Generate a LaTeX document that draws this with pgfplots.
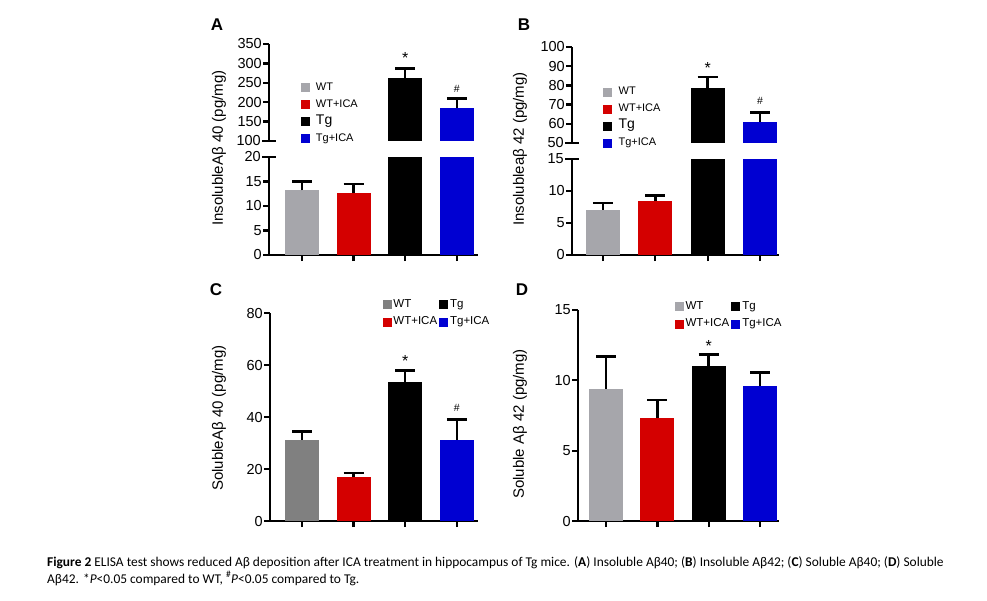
\documentclass[border=0pt]{standalone}
\usepackage{pgfplots}
\pgfplotsset{compat=1.18}
\usepackage{fontspec}
\setmainfont{Liberation Sans}
\newfontfamily\capfont{Carlito}
\definecolor{wtg}{RGB}{166,166,171}
\definecolor{wtgC}{RGB}{128,128,128}
\definecolor{myred}{RGB}{212,0,0}
\definecolor{myblue}{RGB}{0,0,210}
\pgfplotsset{
 base/.style={scale only axis, anchor=south west, clip=true,
   axis line style={line width=2.3pt},
   every tick/.style={line width=2.3pt, black},
   major tick length=6pt, tick align=outside,
   ticklabel style={font=\fontsize{14.5}{14.5}\selectfont},
   yticklabel style={inner sep=1pt},
   /pgf/number format/assume math mode=true,
   /pgf/number format/1000 sep={}},
 lower/.style={base, axis x line*=bottom, axis y line*=left, xtick={1,2,3,4}, xticklabels={}},
 upper/.style={base, axis x line=none, axis y line*=left, xtick=\empty},
 brk/.style={extra y tick style={tick align=center, major tick length=14pt}},
 bar/.style={ybar, bar shift=0pt, bar width=34pt, draw=none, fill=#1, forget plot,
   error bars/.cd, y dir=plus, y explicit,
   error bar style={line width=2.5pt, draw=black},
   error mark options={draw=black, line width=2.5pt, mark size=10pt, rotate=90}},
 sq/.style={legend image code/.code={\fill[#1] (0pt,-4pt) rectangle (8pt,4pt);}},
 legAB/.style={legend cell align=left, legend style={draw=none, fill=none, at={#1}, anchor=north west,
   inner sep=0pt, row sep=4.5pt, nodes={inner sep=1pt, font=\fontsize{11}{11}\selectfont, text height=8pt, text depth=2.5pt},
   /tikz/every odd column/.append style={column sep=6pt}}},
 legCD/.style={legend cell align=left, legend columns=2, legend style={draw=none, fill=none, at={#1}, anchor=north west,
   inner sep=0pt, row sep=5pt, nodes={inner sep=1pt, font=\fontsize{11.5}{11.5}\selectfont, text height=8pt, text depth=2.5pt},
   /tikz/every odd column/.append style={column sep=1.5pt},
   /tikz/every even column/.append style={column sep=1pt}}},
}
\begin{document}
\begin{tikzpicture}
\path[use as bounding box] (0,0) rectangle (987pt,-600pt);
% ---------- Panel A ----------
\begin{axis}[lower, at={(269pt,-255pt)}, width=209pt, height=98pt, xmin=0.36, xmax=4.41,
  ymin=0, ymax=20, ytick={0,5,10,15}, extra y ticks={20}, brk]
\addplot[bar=wtg] coordinates {(1,13.2) +- (0,1.8)};
\addplot[bar=myred] coordinates {(2,12.7) +- (0,1.8)};
\addplot[bar=black] coordinates {(3,262) +- (0,25)};
\addplot[bar=myblue] coordinates {(4,185) +- (0,25)};
\end{axis}
\begin{axis}[upper, at={(269pt,-141pt)}, width=209pt, height=97pt, xmin=0.36, xmax=4.41,
  ymin=100, ymax=350, ytick={150,200,...,350}, extra y ticks={100}, brk, legAB={(0.15,0.62)}]
\addplot[bar=black] coordinates {(3,262) +- (0,25)};
\addplot[bar=myblue] coordinates {(4,185) +- (0,25)};
\addlegendimage{sq=wtg}\addlegendentry{WT}
\addlegendimage{sq=myred}\addlegendentry{WT+ICA}
\addlegendimage{sq=black}\addlegendentry{\fontsize{14}{14}\selectfont Tg}
\addlegendimage{sq=myblue}\addlegendentry{Tg+ICA}
\node[font=\fontsize{16}{16}\selectfont] at (axis cs:3,313) {*};
\node[font=\fontsize{10.5}{10.5}\selectfont] at (axis cs:4,234) {\#};
\end{axis}
% ---------- Panel B ----------
\begin{axis}[lower, at={(572pt,-255pt)}, width=207pt, height=96pt, xmin=0.41, xmax=4.36,
  ymin=0, ymax=15, ytick={0,5,10}, extra y ticks={15}, brk]
\addplot[bar=wtg] coordinates {(1,7.1) +- (0,1.0)};
\addplot[bar=myred] coordinates {(2,8.4) +- (0,0.9)};
\addplot[bar=black] coordinates {(3,78.5) +- (0,6)};
\addplot[bar=myblue] coordinates {(4,61) +- (0,5)};
\end{axis}
\begin{axis}[upper, at={(572pt,-143pt)}, width=207pt, height=96pt, xmin=0.41, xmax=4.36,
  ymin=50, ymax=100, ytick={60,70,...,100}, extra y ticks={50}, brk, legAB={(0.15,0.6)}]
\addplot[bar=black] coordinates {(3,78.5) +- (0,6)};
\addplot[bar=myblue] coordinates {(4,61) +- (0,5)};
\addlegendimage{sq=wtg}\addlegendentry{WT}
\addlegendimage{sq=myred}\addlegendentry{WT+ICA}
\addlegendimage{sq=black}\addlegendentry{\fontsize{14}{14}\selectfont Tg}
\addlegendimage{sq=myblue}\addlegendentry{Tg+ICA}
\node[font=\fontsize{16}{16}\selectfont] at (axis cs:3,89) {*};
\node[font=\fontsize{10.5}{10.5}\selectfont] at (axis cs:4,72) {\#};
\end{axis}
% ---------- Panel C ----------
\begin{axis}[lower, at={(270pt,-521pt)}, width=208pt, height=208pt, xmin=0.38, xmax=4.41,
  ymin=0, ymax=80, ytick={0,20,...,80}, legCD={(0.54,1.071)}]
\addlegendimage{sq=wtgC}\addlegendentry{WT}
\addlegendimage{sq=black}\addlegendentry{Tg}
\addlegendimage{sq=myred}\addlegendentry{WT+ICA}
\addlegendimage{sq=myblue}\addlegendentry{Tg+ICA}
\addplot[bar=wtgC] coordinates {(1,31.3) +- (0,3.2)};
\addplot[bar=myred] coordinates {(2,16.8) +- (0,1.7)};
\addplot[bar=black] coordinates {(3,53.5) +- (0,4.3)};
\addplot[bar=myblue] coordinates {(4,31.3) +- (0,7.7)};
\node[font=\fontsize{16}{16}\selectfont] at (axis cs:3,61.5) {*};
\node[font=\fontsize{10.5}{10.5}\selectfont] at (axis cs:4,43.5) {\#};
\end{axis}
% ---------- Panel D ----------
\begin{axis}[lower, at={(578pt,-521pt)}, width=201pt, height=211pt, xmin=0.454, xmax=4.37,
  ymin=0, ymax=15, ytick={0,5,10,15}, legCD={(0.48,1.047)}]
\addlegendimage{sq=wtg}\addlegendentry{WT}
\addlegendimage{sq=black}\addlegendentry{Tg}
\addlegendimage{sq=myred}\addlegendentry{WT+ICA}
\addlegendimage{sq=myblue}\addlegendentry{Tg+ICA}
\addplot[bar=wtg] coordinates {(1,9.4) +- (0,2.3)};
\addplot[bar=myred] coordinates {(2,7.35) +- (0,1.25)};
\addplot[bar=black] coordinates {(3,11.0) +- (0,0.85)};
\addplot[bar=myblue] coordinates {(4,9.6) +- (0,0.95)};
\node[font=\fontsize{16}{16}\selectfont] at (axis cs:3,12.45) {*};
\end{axis}
% ---------- labels ----------
\node[font=\bfseries\fontsize{17}{17}\selectfont] at (217pt,-25pt) {A};
\node[font=\bfseries\fontsize{17}{17}\selectfont] at (524pt,-25pt) {B};
\node[font=\bfseries\fontsize{17}{17}\selectfont] at (216pt,-290pt) {C};
\node[font=\bfseries\fontsize{17}{17}\selectfont] at (522pt,-290pt) {D};
\node[rotate=90, font=\fontsize{15}{15}\selectfont] at (219pt,-148pt) {InsolubleAβ 40 (pg/mg)};
\node[rotate=90, font=\fontsize{15}{15}\selectfont] at (520pt,-149pt) {Insolubleaβ 42 (pg/mg)};
\node[rotate=90, font=\fontsize{15}{15}\selectfont] at (219pt,-418pt) {SolubleAβ 40 (pg/mg)};
\node[rotate=90, font=\fontsize{15}{15}\selectfont] at (520pt,-424pt) {Soluble Aβ 42 (pg/mg)};
\node[anchor=base west, inner sep=0pt, font=\capfont\fontsize{13.4}{13.4}\selectfont] at (47pt,-566pt)
 {\textbf{Figure 2} ELISA test shows reduced Aβ deposition after ICA treatment in hippocampus of Tg mice. (\textbf{A}) Insoluble Aβ40; (\textbf{B}) Insoluble Aβ42; (\textbf{C}) Soluble Aβ40; (\textbf{D}) Soluble};
\node[anchor=base west, inner sep=0pt, font=\capfont\fontsize{13.4}{13.4}\selectfont] at (47pt,-583pt)
 {Aβ42. *\textit{P}<0.05 compared to WT, \textsuperscript{\#}\textit{P}<0.05 compared to Tg.};
\end{tikzpicture}
\end{document}
